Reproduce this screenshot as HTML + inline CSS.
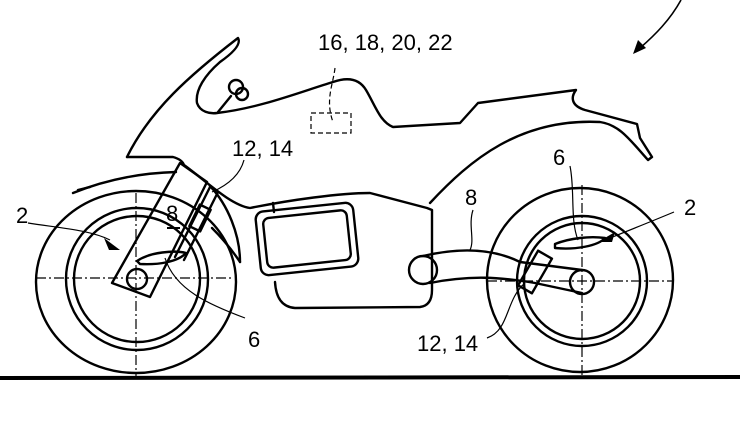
<!DOCTYPE html>
<html><head><meta charset="utf-8"><style>
html,body{margin:0;padding:0;background:#fff;}
svg{display:block;}
text{font-family:"Liberation Sans",sans-serif;fill:#000;}
</style></head><body>
<svg width="740" height="438" viewBox="0 0 740 438" xmlns="http://www.w3.org/2000/svg">
<g fill="none" stroke="#000" stroke-width="2.4" stroke-linejoin="round" stroke-linecap="round">
<line x1="0" y1="378" x2="740" y2="377" stroke-width="4"/>
<ellipse cx="136" cy="282" rx="100" ry="91"/>
<circle cx="137" cy="279" r="71"/>
<circle cx="137" cy="279" r="63"/>
<ellipse cx="580" cy="280" rx="93" ry="92"/>
<circle cx="582" cy="281" r="65"/>
<circle cx="582" cy="281" r="58"/>
<!-- fairing -->
<path d="M127,157 C150,110 190,75 238,38 C242,45 230,55 220,62 C205,75 195,90 197,103 C200,112 210,114 217,113 C260,108 300,92 333,82 C350,76 360,80 366,90 C375,105 380,122 393,127 L460,123 L478,103 L576,90 C570,98 572,106 585,110 L637,124 L640,138 L652,157 L648,160 C630,140 620,125 600,122 C520,118 470,160 430,203"/>
<path d="M127,157 L173,157 C180,159 183,162 184,165 C205,180 230,205 250,208 C290,200 340,193 370,193 L427,208 L432,210 L432,290 C432,300 428,306 420,307 L295,308 C282,307 276,298 275,282"/>
<circle cx="236" cy="87" r="7"/>
<circle cx="242" cy="94" r="6"/>
<line x1="231" y1="96" x2="218" y2="112"/>
<!-- battery box -->
<rect x="258" y="207" width="98" height="64" rx="8" transform="rotate(-6 307 239)"/>
<rect x="265" y="214" width="84" height="50" rx="6" transform="rotate(-6 307 239)"/>
<line x1="273" y1="203" x2="274" y2="212"/>
<!-- front fender -->
<path d="M73,193 C105,180 140,173 176,172"/>
<path d="M90,187 L78,190"/>
<path d="M210,186 C228,205 240,235 240,262"/>
<path d="M212,228 C222,238 232,250 240,262"/>
<!-- fork -->
<path d="M180,163 L207,182 L150,297 L112,283 Z"/>
<circle cx="137" cy="279" r="10"/>
<!-- front shock -->
<path d="M210,187 L175,257"/>
<path d="M218,192 L184,260"/>
<rect x="194" y="206" width="12" height="24" transform="rotate(26 200 218)"/>
<path d="M137,261 C150,252 175,250 186,253 C178,262 158,265 140,264 Z"/>
<!-- swingarm -->
<circle cx="423" cy="270" r="14"/>
<path d="M423,256 C470,245 500,252 520,262 L582,270"/>
<path d="M430,283 C470,275 500,277 535,283 L582,293"/>
<circle cx="582" cy="282" r="12"/>
<rect x="527" y="252" width="16" height="40" transform="rotate(30 535 272)"/>
<path d="M555,244 C570,238 590,236 605,238 C598,246 575,250 555,248 Z"/>
</g>
<g stroke="#000" stroke-width="1.2" stroke-dasharray="10,3,2,3" fill="none">
<line x1="36" y1="278" x2="232" y2="278"/>
<line x1="136" y1="193" x2="136" y2="378"/>
<line x1="487" y1="281" x2="673" y2="281"/>
<line x1="582" y1="185" x2="582" y2="375"/>
</g>
<g stroke="#000" stroke-width="1.2" stroke-dasharray="5,3" fill="none">
<rect x="311" y="113" width="40" height="20"/>
<path d="M335,68 C333,85 325,100 333,122"/>
</g>
<g stroke="#000" stroke-width="1.2" fill="none">
<path d="M28,223 C60,228 90,230 110,240"/>
<path d="M165,258 C175,290 210,305 245,318"/>
<path d="M244,160 C240,175 228,185 212,192"/>
<path d="M674,212 C650,222 630,230 610,238"/>
<path d="M570,166 C575,190 570,220 578,240"/>
<path d="M473,210 C468,225 475,240 470,250"/>
<path d="M487,338 C510,330 505,300 525,283"/>
<path d="M681,0 C670,20 655,35 640,48" stroke-width="1.6"/>
</g>
<polygon points="120,250 104,238 109,250" fill="#000"/>
<polygon points="598,242 615,232 612,242" fill="#000"/>
<polygon points="633,54 638,40 646,48" fill="#000"/>
<g font-size="22">
<text x="318" y="50">16, 18, 20, 22</text>
<text x="232" y="156">12, 14</text>
<text x="16" y="223">2</text>
<text x="166" y="221">8</text>
<text x="248" y="347">6</text>
<text x="553" y="165">6</text>
<text x="465" y="205">8</text>
<text x="684" y="215">2</text>
<text x="417" y="351">12, 14</text>
</g>
<line x1="167" y1="228" x2="180" y2="228" stroke="#000" stroke-width="2"/>
</svg>
</body></html>
